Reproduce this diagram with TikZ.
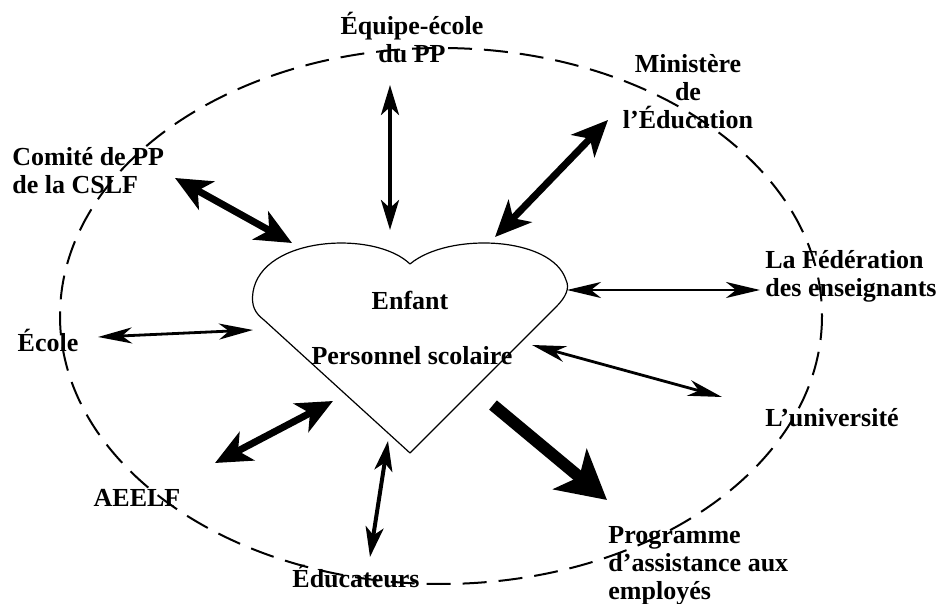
\documentclass[tikz,border=0pt]{standalone}
\usepackage{fontspec}
\setmainfont{Liberation Serif}
\usetikzlibrary{arrows.meta}

\begin{document}
\begin{tikzpicture}[x=0.5pt, y=-0.5pt, line join=round, >=stealth]
            \tikzset{every node/.style={font=\fontsize{13}{14}\selectfont\bfseries, inner sep=0pt},
              thinlink/.style={line width=1.4pt, >={Stealth[length=17pt,width=8pt,inset=5pt]}, <->},
              midlink/.style={line width=2pt, >={Stealth[length=15pt,width=9pt,inset=4pt]}, <->},
              thicklink/.style={line width=3.5pt, >={Stealth[length=18pt,width=16pt,inset=5pt]}, <->},
              biglink/.style={line width=6pt, >={Stealth[length=24pt,width=26pt,inset=6pt]}, ->}}
            \useasboundingbox (0,0) rectangle (938,604);
            % heart
            \draw[line width=0.6pt] (410,264) .. controls (375,230) and (262,236) .. (253,292)
              .. controls (251,306) and (255,313) .. (264,320) -- (410,453) -- (556,307)
              .. controls (566,297) and (570,288) .. (566,280) .. controls (552,236) and (448,232) .. (410,264);
            \node (enfant) at (410,300) {Enfant};
            \node (personnel) at (412,356) {Personnel scolaire};
            % partners
            \node[align=center] (equipe) at (412,38) {Équipe-école\\du PP};
            \node[align=center] (ministere) at (688,92) {Ministère\\de\\l’Éducation};
            \node[align=left, anchor=west] (comite) at (12,171) {Comité de PP\\de la CSLF};
            \node[align=left, anchor=west] (federation) at (765,276) {La Fédération\\des enseignants};
            \node (ecole) at (48,340) {École};
            \node (universite) at (832,418) {L’université};
            \node (aeelf) at (137,498) {AEELF};
            \node (educateurs) at (356,577) {Éducateurs};
            \node[align=left, anchor=west] (programme) at (608,566) {Programme\\d’assistance aux\\employés};
            \draw[line width=1pt, dash pattern=on 12pt off 6pt] (441,316) ellipse [x radius=381, y radius=268];
            % arrow ends
            \coordinate (o-equipe) at (390,85);      \coordinate (h-equipe) at (390,230);
            \coordinate (o-comite) at (175,178);     \coordinate (h-comite) at (292,243);
            \coordinate (o-ministere) at (608,120);  \coordinate (h-ministere) at (495,237);
            \coordinate (o-federation) at (760,290); \coordinate (h-federation) at (567,290);
            \coordinate (o-ecole) at (98,337);       \coordinate (h-ecole) at (253,330);
            \coordinate (o-aeelf) at (215,463);      \coordinate (h-aeelf) at (333,401);
            \coordinate (o-educ) at (370,557);       \coordinate (h-educ) at (388,441);
            \coordinate (o-univ) at (722,397);       \coordinate (h-univ) at (532,345);
            \coordinate (o-prog) at (607,500);       \coordinate (h-prog) at (493,405);
            \draw[midlink] (o-equipe) -- (h-equipe);
            \draw[thicklink] (o-comite) -- (h-comite);
            \draw[thicklink] (o-ministere) -- (h-ministere);
            \draw[thinlink] (h-federation) -- (o-federation);
            \draw[thinlink] (o-ecole) -- (h-ecole);
            \draw[thicklink] (o-aeelf) -- (h-aeelf);
            \draw[midlink] (o-educ) -- (h-educ);
            \draw[thinlink] (h-univ) -- (o-univ);
            \draw[biglink] (h-prog) -- (o-prog);
        \end{tikzpicture}
\end{document}
